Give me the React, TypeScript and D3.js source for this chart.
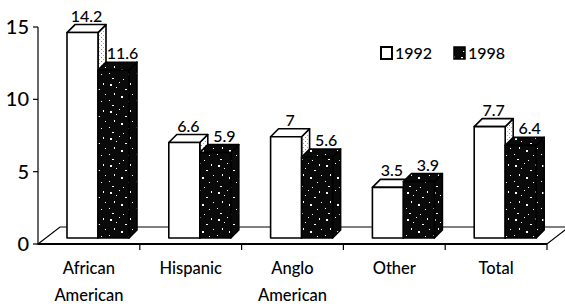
import * as d3 from 'd3'

const categories = ['African American', 'Hispanic', 'Anglo American', 'Other', 'Total']
const categoryLines = [['African', 'American'], ['Hispanic'], ['Anglo', 'American'], ['Other'], ['Total']]
const series = ['1992', '1998']
const values1992 = [14.2, 6.6, 7, 3.5, 7.7]
const values1998 = [11.6, 5.9, 5.6, 3.9, 6.4]
const yTicks = [0, 5, 10, 15]

const W = 565
const H = 306
const FONT = 'Lato, "Open Sans", sans-serif'

// white flecks inside the 1998 texture tile: x, y, w, h
const specks = [
  [2, 3, 2, 2], [11, 1, 1, 1], [17, 8, 2, 1], [6, 12, 1, 2], [13, 15, 2, 2], [1, 19, 1, 1],
  [20, 20, 1, 1], [8, 6, 1, 1], [22, 2, 1, 2], [4, 24, 2, 1], [15, 25, 1, 1], [24, 13, 1, 1],
]

export default function App() {
  const x = d3.scaleBand<string>().domain(categories).range([38, 547])
  const xInner = d3.scaleBand<string>().domain(series).range([29, 91])
  const y = d3.scaleLinear().domain([0, 15]).range([244, 27])

  const barDx = 8
  const barDy = -8
  const barLift = 6
  const floor = { dx: 22, dy: -17 }

  const bars = categories.flatMap((c, i) =>
    series.map((s) => {
      const v = s === '1992' ? values1992[i] : values1998[i]
      const x0 = (x(c) ?? 0) + (xInner(s) ?? 0)
      const x1 = x0 + xInner.bandwidth()
      const yTop = y(v) - barLift
      const yBot = y(0) - barLift
      return { c, s, v, x0, x1, yTop, yBot }
    }),
  )

  const pts = (p: number[][]) => p.map((d) => d.join(',')).join(' ')
  const x0 = x.range()[0]
  const x1 = x.range()[1]
  const y0 = y(0)

  return (
    <svg width={W} height={H} style={{ position: 'absolute', left: 0, top: 0, background: '#fff' }} fontFamily={FONT}>
      <defs>
        <pattern id="dark" width={27} height={27} patternUnits="userSpaceOnUse">
          <rect width={27} height={27} fill="#0a0a0a" />
          {specks.map(([a, b, w, h], k) => (
            <rect key={k} x={a} y={b} width={w} height={h} fill="#fff" />
          ))}
        </pattern>
        <pattern id="stipple" width={4} height={4} patternUnits="userSpaceOnUse">
          <rect width={4} height={4} fill="#fff" />
          <rect x={1} y={1} width={1} height={1} fill="#888" />
          <rect x={3} y={3} width={1} height={1} fill="#aaa" />
        </pattern>
      </defs>

      {/* floor */}
      <polygon
        points={pts([[x0, y0], [x0 + floor.dx, y0 + floor.dy], [x1 + floor.dx, y0 + floor.dy], [x1, y0]])}
        fill="#fff"
        stroke="#000"
        strokeWidth={1.2}
      />

      {/* bars */}
      {bars.map((b) => {
        const fill = b.s === '1992' ? '#fff' : 'url(#dark)'
        const side = b.s === '1992' ? 'url(#stipple)' : 'url(#dark)'
        return (
          <g key={b.c + b.s} stroke="#000" strokeWidth={1.6} strokeLinejoin="round">
            <polygon
              points={pts([[b.x1, b.yTop], [b.x1 + barDx, b.yTop + barDy], [b.x1 + barDx, b.yBot + barDy], [b.x1, b.yBot]])}
              fill={side}
            />
            <polygon
              points={pts([[b.x0, b.yTop], [b.x0 + barDx, b.yTop + barDy], [b.x1 + barDx, b.yTop + barDy], [b.x1, b.yTop]])}
              fill={fill}
            />
            <rect x={b.x0} y={b.yTop} width={b.x1 - b.x0} height={b.yBot - b.yTop} fill={fill} />
          </g>
        )
      })}

      {/* value labels */}
      {bars.map((b) => (
        <text
          key={'l' + b.c + b.s}
          x={(b.x0 + b.x1) / 2 + (b.s === '1992' ? 4 : 9)}
          y={b.yTop + barDy - 3}
          textAnchor="middle"
          fontSize={16}
          fontWeight={500}
          fill="#000"
        >
          {b.v}
        </text>
      ))}

      {/* x axis (front floor edge) */}
      <line x1={x0} x2={x1} y1={y0} y2={y0} stroke="#000" strokeWidth={2} />
      {categories.map((c) => (
        <line key={'t' + c} x1={(x(c) ?? 0) + x.bandwidth()} x2={(x(c) ?? 0) + x.bandwidth()} y1={y0} y2={y0 + 6} stroke="#000" strokeWidth={1.2} />
      ))}
      {categories.map((c, i) => (
        <text key={'c' + c} x={(x(c) ?? 0) + x.bandwidth() / 2} textAnchor="middle" fontSize={16.5} fontWeight={500} fill="#000">
          {categoryLines[i].map((line, k) => (
            <tspan key={k} x={(x(c) ?? 0) + x.bandwidth() / 2} y={274 + k * 27}>
              {line}
            </tspan>
          ))}
        </text>
      ))}

      {/* y axis */}
      <line x1={x0} x2={x0} y1={y(15)} y2={y0} stroke="#000" strokeWidth={1.2} />
      {yTicks.map((t) => (
        <g key={'y' + t}>
          <line x1={x0 - 5} x2={x0} y1={y(t)} y2={y(t)} stroke="#000" strokeWidth={1.2} />
          <text x={x0 - 9} y={y(t) + 7} textAnchor="end" fontSize={20} fontWeight={500} fill="#000">
            {t}
          </text>
        </g>
      ))}

      {/* legend */}
      <rect x={381} y={47} width={11} height={12} fill="#fff" stroke="#000" strokeWidth={2} />
      <text x={395} y={59} fontSize={16} fontWeight={500} fill="#000">1992</text>
      <rect x={454} y={47} width={11} height={12} fill="url(#dark)" stroke="#000" strokeWidth={1.5} />
      <text x={468} y={59} fontSize={16} fontWeight={500} fill="#000">1998</text>
    </svg>
  )
}
